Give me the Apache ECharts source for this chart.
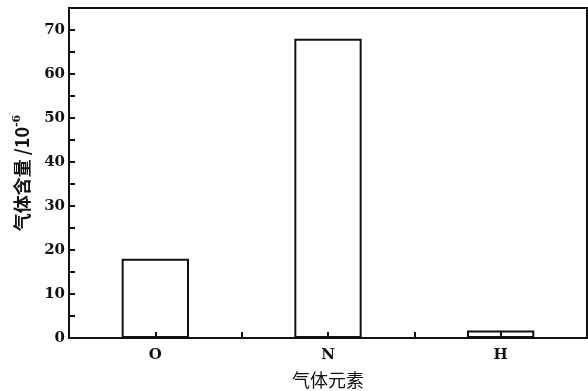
<!DOCTYPE html>
<html>
<head>
<meta charset="utf-8">
<script src="https://cdn.jsdelivr.net/npm/echarts@6/dist/echarts.min.js"></script>
<style>html,body{margin:0;padding:0;background:#fff;}#c{width:588px;height:391px;}</style>
</head>
<body>
<div id="c"></div>
<script>
const categories = ['O', 'N', 'H'];
const values = [18, 68, 1.7];
const yTickValues = [0, 10, 20, 30, 40, 50, 60, 70];
const xName = '气体元素';
const yName = '气体含量 /10';

const chart = echarts.init(document.getElementById('c'), null, {renderer: 'canvas'});
const numFont = '"DejaVu Serif", "Liberation Serif", serif';
chart.setOption({
  backgroundColor: '#ffffff',
  animation: false,
  grid: {left: 69, top: 8, right: 1, bottom: 53, containLabel: false, outerBoundsMode: 'none',
         show: true, borderColor: '#111', borderWidth: 2, backgroundColor: 'transparent'},
  xAxis: [{
    type: 'category',
    data: categories,
    axisLine: {show: true, lineStyle: {color: '#111', width: 2}},
    axisTick: {show: true, inside: true, length: 6, alignWithLabel: false, lineStyle: {color: '#111', width: 2}},
    axisLabel: {color: '#111', fontFamily: numFont, fontWeight: 'bold', fontSize: 15, margin: 10},
    name: xName,
    nameLocation: 'middle',
    nameGap: 33,
    nameTextStyle: {color: '#111', fontFamily: '"Noto Sans CJK SC", sans-serif', fontSize: 18}
  }, {
    type: 'category',
    data: categories,
    position: 'bottom',
    z: 10,
    axisLine: {show: false},
    axisTick: {show: true, inside: true, length: 6, alignWithLabel: true, lineStyle: {color: '#111', width: 2}},
    axisLabel: {show: false}
  }],
  yAxis: {
    type: 'value',
    min: 0, max: 75, interval: 5,
    axisLine: {show: true, lineStyle: {color: '#111', width: 2}},
    axisTick: {show: true, inside: true, length: 6, lineStyle: {color: '#111', width: 2}},
    splitLine: {show: false},
    axisLabel: {
      color: '#111', fontFamily: numFont, fontWeight: 'bold', fontSize: 15, margin: 4,
      showMaxLabel: false,
      formatter: v => yTickValues.indexOf(v) >= 0 ? String(v) : ''
    },
    name: yName + '{sup|-6}',
    nameLocation: 'middle',
    nameRotate: 90,
    nameGap: 36,
    nameTextStyle: {
      color: '#111', fontFamily: '"Noto Sans CJK SC", sans-serif', fontWeight: 'bold', fontSize: 18,
      rich: {sup: {fontSize: 11, fontWeight: 'bold', fontFamily: numFont, color: '#111', verticalAlign: 'top', padding: [0, 0, 10, 0]}}
    }
  },
  series: [{
    type: 'bar',
    xAxisIndex: 0,
    data: values,
    barWidth: '39%',
    itemStyle: {color: '#ffffff', borderColor: '#111', borderWidth: 2}
  }]
});
</script>
</body>
</html>
